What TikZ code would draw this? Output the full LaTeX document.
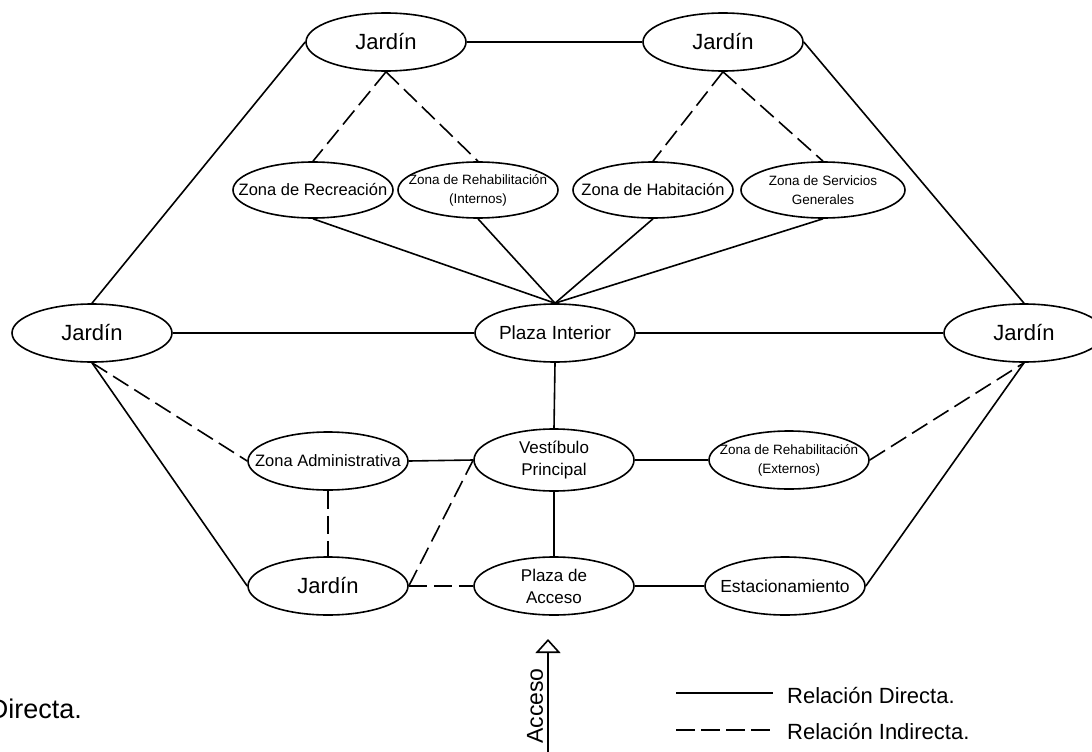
\documentclass[tikz,border=0pt]{standalone}
\usepackage{fontspec}
\setmainfont{Liberation Sans}
\usetikzlibrary{arrows.meta, shapes.geometric, calc}
\newlength{\rlLine}
\setlength{\rlLine}{1.6pt}
\tikzset{
  rlshape/.style={
    ellipse, draw=black, line width=\rlLine, fill=white,
    minimum width=160pt, minimum height=58pt, inner sep=0pt,
  },
  rltext/.style={align=center, inner sep=0pt, text=black},
  rlbig/.style={font=\fontsize{22}{24}\selectfont},
  rlmid/.style={font=\fontsize{16.5}{22}\selectfont},
  rlsmall/.style={font=\fontsize{13.5}{19}\selectfont},
  rldirect/.style={draw=black, line width=\rlLine},
  rlindirect/.style={draw=black, line width=\rlLine, dash pattern=on 18pt off 7pt},
  rlaccess/.style={
    -{Triangle[open, length=14pt, width=25pt, fill=white]}, draw=black,
    line width=\rlLine,
  },
}
% ellipse with its label laid on top, so the text does not widen the shape
\newcommand{\rlzone}[5]{%
  \node[rlshape, #3] (#1) at (#2) {};%
  \node[rltext, #4] (#1-t) at (#1.center) {#5};%
}

\begin{document}
\begin{tikzpicture}[x=1pt, y=-1pt]
\useasboundingbox (0,0) rectangle (1092,752);

% Top row ---------------------------------------------------------------
\rlzone{j1}{386,42}{}{rlbig}{Jardín}
\rlzone{j2}{723,42}{}{rlbig}{Jardín}

% Zones under the gardens -----------------------------------------------
\rlzone{rec}{313,190}{minimum height=56pt}{rlmid}{Zona de Recreación}
\rlzone{rint}{478,190}{minimum height=56pt}{rlsmall}{Zona de Rehabilitación\\(Internos)}
\rlzone{hab}{653,190}{minimum height=56pt}{rlmid}{Zona de Habitación}
\rlzone{serv}{823,190}{minimum width=164pt, minimum height=56pt}{rlsmall}{Zona de Servicios\\Generales}

% Middle row ------------------------------------------------------------
\rlzone{lj}{92,333}{}{rlbig}{Jardín}
\rlzone{pi}{555,333}{}{font=\fontsize{19}{22}\selectfont}{Plaza Interior}
\rlzone{rj}{1024,333}{}{rlbig}{Jardín}

% Lower rows ------------------------------------------------------------
\rlzone{adm}{328,461}{}{rlmid}{Zona Administrativa}
\rlzone{vp}{554,460}{minimum height=62pt}{font=\fontsize{17}{22}\selectfont}{Vestíbulo\\Principal}
\rlzone{rext}{789,460}{}{rlsmall}{Zona de Rehabilitación\\(Externos)}

\rlzone{jb}{328,586}{}{rlbig}{Jardín}
\rlzone{pac}{554,586}{}{font=\fontsize{17}{22}\selectfont}{Plaza de\\Acceso}
\rlzone{est}{785,586}{}{font=\fontsize{17.5}{22}\selectfont}{Estacionamiento}

% Direct relations ------------------------------------------------------
\draw[rldirect] (j1.east) -- (j2.west);
\draw[rldirect] (j1.west) -- (lj.north);
\draw[rldirect] (j2.east) -- (rj.north);
\foreach \z in {rec, rint, hab, serv}{%
  \draw[rldirect] (\z.south) -- (pi.north);
}
\draw[rldirect] (lj.east) -- (pi.west);
\draw[rldirect] (pi.east) -- (rj.west);
\draw[rldirect] (pi.south) -- (vp.north);
\draw[rldirect] (adm.east) -- (vp.west);
\draw[rldirect] (vp.east) -- (rext.west);
\draw[rldirect] (vp.south) -- (pac.north);
\draw[rldirect] (pac.east) -- (est.west);
\draw[rldirect] (lj.south) -- (jb.west);
\draw[rldirect] (est.east) -- (rj.south);

% Indirect relations ----------------------------------------------------
\draw[rlindirect] (j1.south) -- (rec.north);
\draw[rlindirect] (j1.south) -- (rint.north);
\draw[rlindirect] (j2.south) -- (hab.north);
\draw[rlindirect] (j2.south) -- (serv.north);
\draw[rlindirect] (lj.south) -- (adm.west);
\draw[rlindirect] (adm.south) -- (jb.north);
\draw[rlindirect] (jb.east) -- (vp.west);
\draw[rlindirect] (jb.east) -- (pac.west);
\draw[rlindirect] (rext.east) -- (rj.south);

% Access ----------------------------------------------------------------
\coordinate (accfoot) at (548,760);
\coordinate (acctip) at (548,639);
\draw[rlaccess] (accfoot) -- (acctip);
\node[rotate=90, inner sep=0pt, font=\fontsize{23}{26}\selectfont] (acc) at (535,706) {Acceso};

% Legend ----------------------------------------------------------------
\coordinate (lg1a) at (676,693);
\coordinate (lg1b) at (773,693);
\coordinate (lg2a) at (676,730);
\coordinate (lg2b) at (773,730);
\draw[rldirect] (lg1a) -- (lg1b);
\draw[rlindirect, dash pattern=on 19pt off 6pt] (lg2a) -- (lg2b);
\node[anchor=base west, inner sep=0pt, font=\fontsize{22}{26}\selectfont] (lg1) at (787,703) {Relación Directa.};
\node[anchor=base west, inner sep=0pt, font=\fontsize{22}{26}\selectfont] (lg2) at (787,739) {Relación Indirecta.};

% cut-off label at the left border
\node[anchor=base east, inner sep=0pt, font=\fontsize{27}{30}\selectfont] (cut) at (82,718) {Directa.};

\end{tikzpicture}
\end{document}
